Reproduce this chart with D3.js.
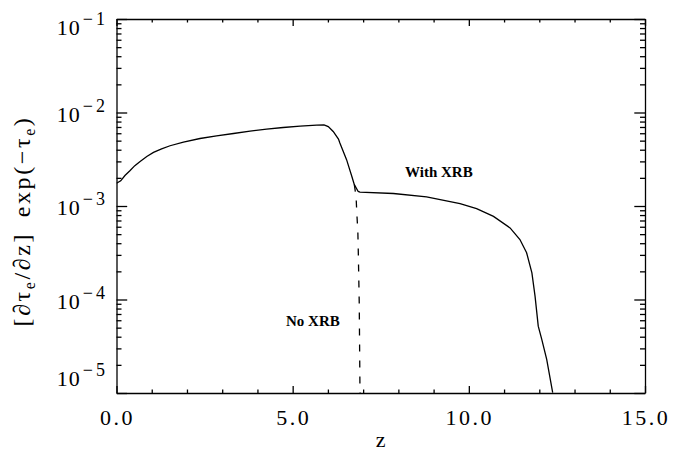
<!DOCTYPE html>
<html>
<head>
<meta charset="utf-8">
<style>
    body { margin: 0; background: #fff; }
    svg { display: block; font-family: 'Liberation Serif', serif; }
    .axis path, .axis line { stroke: #000; stroke-width: 1.3; }
    .tick-label { font-size: 22px; fill: #000; letter-spacing: 1px; }
    .axis-title { font-size: 22px; fill: #000; }
    .note { font-size: 15px; font-weight: bold; fill: #000; }
    .curve { fill: none; stroke: #000; stroke-width: 1.3; }
</style>
</head>
<body>
<svg width="700" height="453"></svg>
<script src="https://d3js.org/d3.v7.min.js"></script>
<script>
// curve with the X-ray background (solid)
const zWithXrb = [0.00, 0.12, 0.24, 0.38, 0.52, 0.67, 0.86, 1.05, 1.28, 1.52, 1.90, 2.37,
    2.84, 3.32, 3.79, 4.26, 4.73, 5.21, 5.68, 5.89, 6.01, 6.15, 6.30, 6.34, 6.53, 6.68,
    6.75, 6.86, 6.91, 7.86, 8.80, 9.75, 10.22, 10.70, 11.17, 11.45, 11.64, 11.79, 11.88,
    11.97, 12.07, 12.21, 12.38]
const valWithXrb = [1.75e-3, 1.86e-3, 2.12e-3, 2.38e-3, 2.70e-3, 3.00e-3, 3.39e-3, 3.74e-3,
    4.09e-3, 4.41e-3, 4.83e-3, 5.27e-3, 5.63e-3, 5.96e-3, 6.32e-3, 6.64e-3, 6.91e-3, 7.15e-3,
    7.32e-3, 7.38e-3, 7.08e-3, 6.27e-3, 5.20e-3, 4.71e-3, 3.13e-3, 2.07e-3, 1.69e-3, 1.43e-3,
    1.41e-3, 1.36e-3, 1.25e-3, 1.06e-3, 9.37e-4, 7.75e-4, 5.83e-4, 4.38e-4, 3.16e-4, 1.93e-4,
    1.08e-4, 5.19e-5, 3.74e-5, 2.29e-5, 1.01e-5]

// curve without it (dashed), from where the two split
const zNoXrb = [6.75, 6.80, 6.82, 6.85, 6.86, 6.89, 6.91, 6.915]
const valNoXrb = [1.69e-3, 1.26e-3, 8.5e-4, 5.3e-4, 3.67e-4, 8.9e-5, 1.1e-5, 1.0e-5]

const xTickValues = [0, 5, 10, 15]
const xTickLabels = ["0.0", "5.0", "10.0", "15.0"]
const yTickExponents = [-1, -2, -3, -4, -5]

// annotation anchors in data units
const noteWith = { z: 8.19, v: 2.06e-3, text: "With XRB" }
const noteNo = { z: 4.81, v: 5.15e-5, text: "No XRB" }

let width = 700
let height = 453
let margin = { top: 19, right: 55, bottom: 60, left: 116.5 }

let svg = d3.select("svg")

let x = d3.scaleLinear()
    .domain([0, 15])
    .range([margin.left, width - margin.right])

let y = d3.scaleLog()
    .domain([1e-5, 1e-1])
    .range([height - margin.bottom, margin.top])

let yMajor = yTickExponents.map(e => Math.pow(10, e))
let yMinor = y.ticks().filter(d => !yMajor.some(m => Math.abs(m - d) / m < 1e-6))
let xMinor = d3.range(0, 16).filter(d => d % 5 !== 0)

// frame: ticks on all four sides, pointing in
function side(make, scale, pos, major, minor, majorLen, minorLen) {
    let g = svg.append("g").attr("class", "axis").attr("transform", pos)
    g.call(make(scale).tickValues(major).tickSize(-majorLen).tickSizeOuter(0).tickFormat(""))
    g.append("g")
        .call(make(scale).tickValues(minor).tickSize(-minorLen).tickSizeOuter(0).tickFormat(""))
        .call(a => a.select(".domain").remove())
}

let y0 = y.range()[0], y1 = y.range()[1]
let x0 = x.range()[0], x1 = x.range()[1]

side(d3.axisBottom, x, `translate(0,${y0})`, xTickValues, xMinor, 7, 3.5)
side(d3.axisTop, x, `translate(0,${y1})`, xTickValues, xMinor, 7, 3.5)
side(d3.axisLeft, y, `translate(${x0},0)`, yMajor, yMinor, 10.7, 5)
side(d3.axisRight, y, `translate(${x1},0)`, yMajor, yMinor, 10.7, 5)

// x tick labels
svg.append("g")
    .selectAll("text")
    .data(xTickValues)
    .join("text")
    .attr("class", "tick-label")
    .attr("x", d => x(d) + 1)
    .attr("y", 425)
    .attr("text-anchor", "middle")
    .style("letter-spacing", "2.5px")
    .text((d, i) => xTickLabels[i])

// y tick labels, 10 with a raised exponent, kept inside the frame at the ends
yTickExponents.forEach(e => {
    let ty = Math.min(Math.max(y(Math.pow(10, e)) + 9, y1 + 16), y0 - 7)
    let t = svg.append("text")
        .attr("class", "tick-label")
        .attr("x", 108)
        .attr("y", ty)
        .attr("text-anchor", "end")
    t.append("tspan").text("10")
    t.append("tspan")
        .attr("dx", 2)
        .attr("dy", -10)
        .style("font-size", "18px")
        .style("letter-spacing", "3px")
        .text("\u2212" + Math.abs(e))
})

// axis titles
svg.append("text")
    .attr("class", "axis-title")
    .attr("x", (x0 + x1) / 2)
    .attr("y", 447)
    .attr("text-anchor", "middle")
    .text("z")

let yTitle = svg.append("text")
    .attr("class", "axis-title")
    .attr("transform", "translate(30,221) rotate(-90)")
    .attr("text-anchor", "middle")
    .style("font-size", "24px")
    .style("letter-spacing", "2.6px")
yTitle.append("tspan").text("[\u2202\u03c4")
yTitle.append("tspan").attr("dy", 5).style("font-size", "16px").text("e")
yTitle.append("tspan").attr("dy", -5).text("/\u2202z]\u2002exp(\u2212\u03c4")
yTitle.append("tspan").attr("dy", 5).style("font-size", "16px").text("e")
yTitle.append("tspan").attr("dy", -5).text(")")

// curves
svg.append("clipPath")
    .attr("id", "plot-clip")
    .append("rect")
    .attr("x", x0).attr("y", y1)
    .attr("width", x1 - x0).attr("height", y0 - y1)

let line = d3.line()
    .x(d => x(d[0]))
    .y(d => y(d[1]))

svg.append("path")
    .attr("class", "curve")
    .attr("clip-path", "url(#plot-clip)")
    .attr("d", line(d3.zip(zWithXrb, valWithXrb)))

svg.append("path")
    .attr("class", "curve")
    .attr("clip-path", "url(#plot-clip)")
    .style("stroke-dasharray", "7,9")
    .attr("d", line(d3.zip(zNoXrb, valNoXrb)))

// notes
svg.selectAll(".note")
    .data([noteWith, noteNo])
    .join("text")
    .attr("class", "note")
    .attr("x", d => x(d.z))
    .attr("y", d => y(d.v))
    .text(d => d.text)
</script>
</body>
</html>
